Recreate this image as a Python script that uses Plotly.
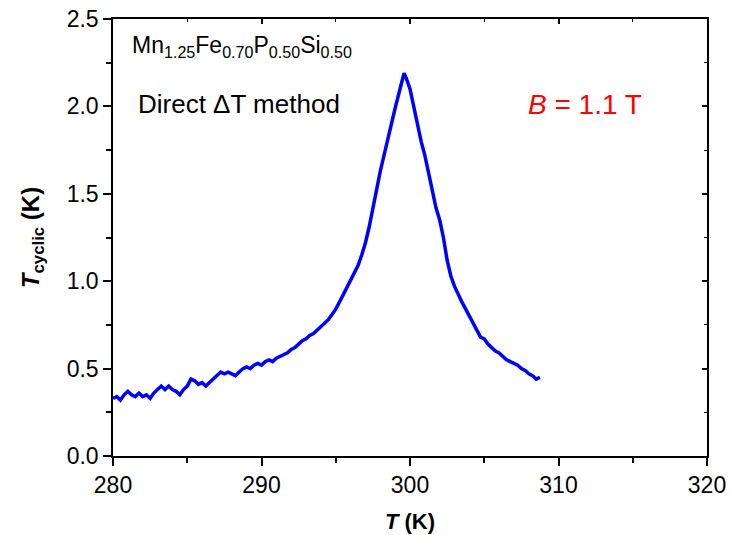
import plotly.graph_objects as go

T_K = [280.0, 280.25, 280.5, 280.75, 281.0, 281.25, 281.5, 281.75, 282.0, 282.25, 282.5, 282.75,
       283.0, 283.25, 283.5, 283.75, 284.0, 284.25, 284.5, 284.75, 285.0, 285.25, 285.5, 285.75,
       286.0, 286.25, 286.5, 286.75, 287.0, 287.25, 287.5, 287.75, 288.0, 288.25, 288.5, 288.75,
       289.0, 289.25, 289.5, 289.75, 290.0, 290.25, 290.5, 290.75, 291.0, 291.25, 291.5, 291.75,
       292.0, 292.25, 292.5, 292.75, 293.0, 293.25, 293.5, 293.75, 294.0, 294.25, 294.5, 294.75,
       295.0, 295.25, 295.5, 295.75, 296.0, 296.25, 296.5, 296.75, 297.0, 297.25, 297.5, 297.75,
       298.0, 298.25, 298.5, 298.75, 299.0, 299.25, 299.5, 299.6, 299.75, 300.0, 300.25, 300.5,
       300.75, 301.0, 301.25, 301.5, 301.75, 302.0, 302.25, 302.5, 302.75, 303.0, 303.25, 303.5,
       303.75, 304.0, 304.25, 304.5, 304.75, 305.0, 305.25, 305.5, 305.75, 306.0, 306.25, 306.5,
       306.75, 307.0, 307.25, 307.5, 307.75, 308.0, 308.25, 308.5, 308.75]

T_cyclic = [0.33, 0.34, 0.32, 0.35, 0.37, 0.35, 0.34, 0.36, 0.34, 0.35, 0.33, 0.36,
            0.38, 0.40, 0.38, 0.40, 0.38, 0.37, 0.35, 0.38, 0.40, 0.44, 0.43, 0.41,
            0.42, 0.40, 0.42, 0.44, 0.46, 0.48, 0.47, 0.48, 0.47, 0.46, 0.48, 0.50,
            0.51, 0.50, 0.52, 0.53, 0.52, 0.54, 0.55, 0.54, 0.56, 0.57, 0.58, 0.59,
            0.61, 0.62, 0.64, 0.66, 0.67, 0.69, 0.70, 0.72, 0.74, 0.76, 0.78, 0.81,
            0.84, 0.88, 0.92, 0.96, 1.00, 1.04, 1.09, 1.15, 1.22, 1.31, 1.42, 1.53,
            1.63, 1.72, 1.82, 1.90, 1.99, 2.08, 2.16, 2.19, 2.16, 2.10, 2.00, 1.89,
            1.80, 1.72, 1.62, 1.51, 1.42, 1.35, 1.25, 1.12, 1.03, 0.97, 0.92, 0.88,
            0.84, 0.80, 0.75, 0.71, 0.68, 0.67, 0.64, 0.62, 0.60, 0.59, 0.57, 0.55,
            0.54, 0.53, 0.52, 0.50, 0.49, 0.47, 0.46, 0.44, 0.45]

x_ticks = [280, 290, 300, 310, 320]
y_ticks = [0.0, 0.5, 1.0, 1.5, 2.0, 2.5]
y_ticklabels = ["0.0", "0.5", "1.0", "1.5", "2.0", "2.5"]

FONT = "Liberation Sans, Arial, sans-serif"

fig = go.Figure()
fig.add_trace(go.Scatter(x=T_K, y=T_cyclic, mode="lines",
                         line=dict(color="#0000FF", width=3.5), showlegend=False))
# helper trace for mirrored (inside-tick) top/right axes
fig.add_trace(go.Scatter(x=[300], y=[1.0], xaxis="x2", yaxis="y2", mode="markers",
                         marker=dict(opacity=0), hoverinfo="skip", showlegend=False))

axis_common = dict(showgrid=False, zeroline=False, showline=True, linecolor="black",
                   linewidth=1.5, tickcolor="black", tickwidth=1.5, automargin=False)

fig.update_layout(
    width=731, height=535,
    margin=dict(l=113, r=24, t=19, b=79),
    paper_bgcolor="white", plot_bgcolor="white",
    font=dict(family=FONT, size=23, color="black"),
    xaxis=dict(range=[280, 320], tickvals=x_ticks, ticks="outside", ticklen=8,
               minor=dict(dtick=5, tick0=280, ticks="outside", ticklen=5,
                          tickcolor="black", tickwidth=1.5),
               title=dict(text="<b><i>T</i> (K)</b>", font=dict(size=22), standoff=16),
               tickfont=dict(size=23), **axis_common),
    yaxis=dict(range=[0, 2.5], tickvals=y_ticks, ticktext=y_ticklabels,
               ticks="outside", ticklen=8,
               minor=dict(dtick=0.25, tick0=0, ticks="outside", ticklen=5,
                          tickcolor="black", tickwidth=1.5),
               title=dict(text="<b><i>T</i><sub>cyclic</sub> (K)</b>", font=dict(size=24),
                          standoff=20),
               tickfont=dict(size=23), **axis_common),
    xaxis2=dict(range=[280, 320], overlaying="x", side="top", tickvals=x_ticks,
                ticks="inside", ticklen=5, showticklabels=False,
                minor=dict(dtick=5, tick0=280, ticks="inside", ticklen=3,
                           tickcolor="black", tickwidth=1),
                **axis_common),
    yaxis2=dict(range=[0, 2.5], overlaying="y", side="right", tickvals=y_ticks,
                ticks="inside", ticklen=5, showticklabels=False,
                minor=dict(dtick=0.25, tick0=0, ticks="inside", ticklen=3,
                           tickcolor="black", tickwidth=1),
                **axis_common),
)

fig.add_annotation(xref="paper", yref="paper", x=0.028, y=0.936, xanchor="left", yanchor="middle",
                   text="Mn<sub>1.25</sub>Fe<sub>0.70</sub>P<sub>0.50</sub>Si<sub>0.50</sub>",
                   showarrow=False, font=dict(size=23, family=FONT, color="black"))
fig.add_annotation(xref="paper", yref="paper", x=0.038, y=0.805, xanchor="left", yanchor="middle",
                   text="Direct ΔT method", showarrow=False,
                   font=dict(size=26, family=FONT, color="black"))
fig.add_annotation(xref="paper", yref="paper", x=0.695, y=0.805, xanchor="left", yanchor="middle",
                   text="<i>B</i> = 1.1 T", showarrow=False,
                   font=dict(size=28, family=FONT, color="#FF0000"))

fig.write_html("out.html")
